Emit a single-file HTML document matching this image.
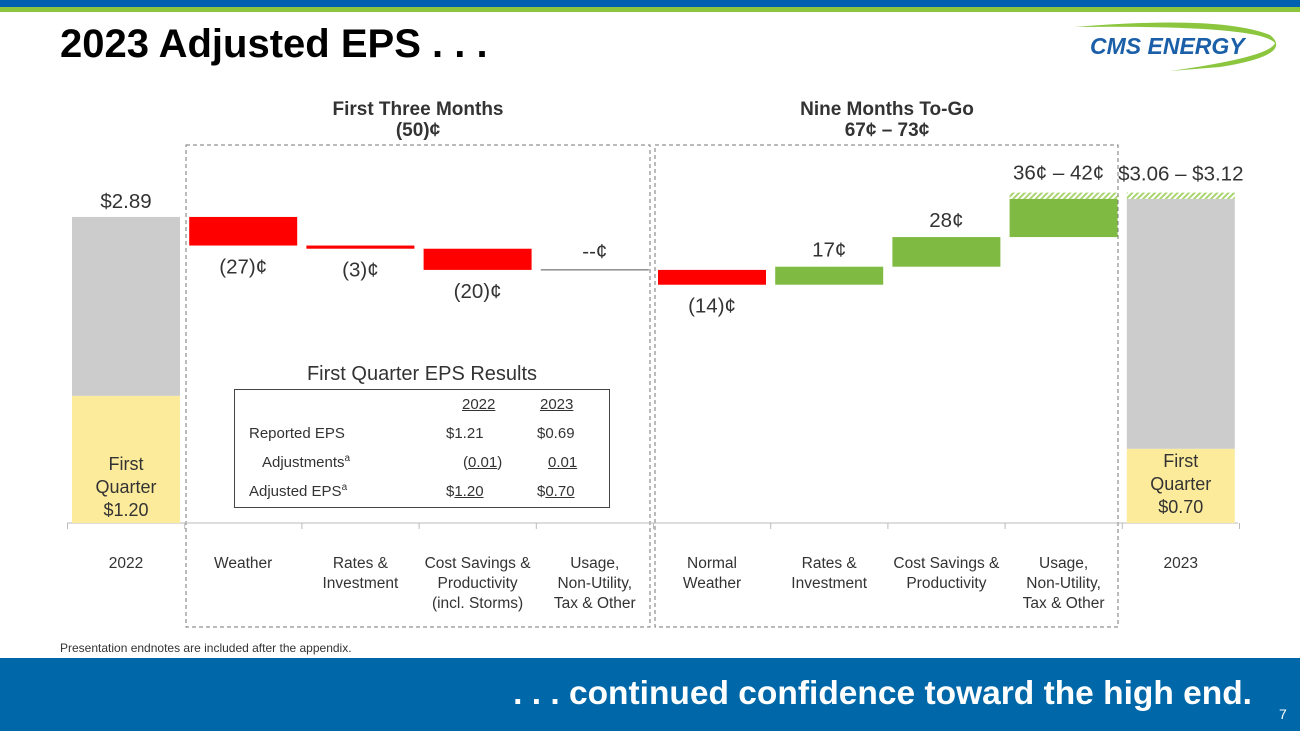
<!DOCTYPE html>
<html><head><meta charset="utf-8">
<style>
body{margin:0;width:1300px;height:731px;overflow:hidden;background:#fff;font-family:"Liberation Sans",sans-serif;position:relative}
.abs{position:absolute}
</style></head>
<body>
<div class="abs" style="left:0;top:0;width:1300px;height:7px;background:#0060b0"></div>
<div class="abs" style="left:0;top:7px;width:1300px;height:5px;background:#8cc63f"></div>
<div class="abs" style="left:60px;top:22px;font-size:40px;font-weight:bold;color:#000;letter-spacing:0px">2023 Adjusted EPS . . .</div>
<svg class="abs" style="left:1070px;top:15px" width="225" height="60">
<path d="M5,12 Q150,0 200,20 Q225,40 150,52 L100,56 Q200,42 205,28 Q190,10 5,12Z" fill="#8cc63f"/>
<text x="20" y="39" font-size="23" font-weight="bold" font-style="italic" fill="#1a5fa8" font-family="Liberation Sans">CMS ENERGY</text>
</svg>
<svg class="abs" style="left:0;top:0" width="1300" height="658" id="chart">
</svg>
<div class="abs" style="left:60px;top:641px;font-size:12px;color:#333">Presentation endnotes are included after the appendix.</div>
<div class="abs" style="left:0;top:658px;width:1300px;height:73px;background:#0068a8"></div>
<div class="abs" style="left:0;width:1252px;text-align:right;top:675px;font-size:33.5px;font-weight:bold;color:#fff">. . . continued confidence toward the high end.</div>
<div class="abs" style="left:1279px;top:706px;font-size:14px;color:#fff">7</div>
<script>
const categories=["2022","Weather","Rates &|Investment","Cost Savings &|Productivity|(incl. Storms)","Usage,|Non-Utility,|Tax & Other","Normal|Weather","Rates &|Investment","Cost Savings &|Productivity","Usage,|Non-Utility,|Tax & Other","2023"];
const deltas=[2.89,-0.27,-0.03,-0.20,0,-0.14,0.17,0.28,0.36,3.06];
const rangeExtra=[0,0,0,0,0,0,0,0,0.06,0.06];
const firstQuarter=[1.20,0,0,0,0,0,0,0,0,0.70];
const valueLabels=["$2.89","(27)¢","(3)¢","(20)¢","--¢","(14)¢","17¢","28¢","36¢ – 42¢","$3.06 – $3.12"];
const fqLabels=["$1.20","","","","","","","","","$0.70"];
const NS="http://www.w3.org/2000/svg";
const svg=document.getElementById('chart');
const base=523,ppd=105.9,x0=72,step=117.2,bw=108;
const y=v=>base-v*ppd;
const xc=i=>x0+i*step+bw/2;
function mk(t,a){const e=document.createElementNS(NS,t);for(const k in a)e.setAttribute(k,a[k]);svg.appendChild(e);return e;}
const defs=mk('defs',{});
defs.innerHTML='<pattern id="hatch" width="4" height="4" patternUnits="userSpaceOnUse" patternTransform="rotate(45)"><rect width="2" height="4" fill="#a9d46f"/></pattern>';
let b1=mk('rect',{x:186,y:145,width:464,height:482,fill:'none',stroke:'#777','stroke-dasharray':'4,3'});


let b2=mk('rect',{x:655,y:145,width:463,height:482,fill:'none',stroke:'#777','stroke-dasharray':'4,3'});


function txt(s,x,yy,sz,opts){const t=mk('text',Object.assign({x:x,y:yy,'font-size':sz,'text-anchor':'middle',fill:'#333','font-family':'Liberation Sans'},opts||{}));t.textContent=s;return t;}
let h=txt('First Three Months',418,115,19,{'font-weight':'bold',fill:'#333'});


h=txt('(50)¢',418,136,19,{'font-weight':'bold'});


h=txt('Nine Months To-Go',887,115,19,{'font-weight':'bold'});


h=txt('67¢ – 73¢',887,136,19,{'font-weight':'bold'});


let ax=mk('line',{x1:67,x2:1238,y1:base,y2:base,stroke:'#bbb'});


for(let i=0;i<=categories.length;i++){const tx=x0-4.5+i*step;mk('line',{x1:tx,x2:tx,y1:base,y2:base+6,stroke:'#bbb'});}
let run=0;
categories.forEach((c,i)=>{
  const xl=x0+i*step;let top,bot,lbY;
  if(i==0||i==categories.length-1){
    run=deltas[i];top=y(deltas[i]);bot=y(firstQuarter[i]);
    let r=mk('rect',{x:xl,y:top,width:bw,height:bot-top,fill:'#cccccc'});
    
    
    let f=mk('rect',{x:xl,y:bot,width:bw,height:base-bot,fill:'#fdeb9c'});
    
    
    ['First','Quarter',fqLabels[i]].forEach((s,k)=>txt(s,xc(i),bot+(i==0?74:18)+k*23,18));
    lbY=top-9;
  }else{
    const a=run,b=run+deltas[i];run=b;
    top=y(Math.max(a,b));bot=y(Math.min(a,b));
    if(deltas[i]==0){let l=mk('line',{x1:xl,x2:xl+bw,y1:top,y2:top,stroke:'#555'});lbY=top-12;}
    else{let r=mk('rect',{x:xl,y:top,width:bw,height:Math.max(bot-top,3),fill:deltas[i]<0?'#ff0000':'#7fba42'});
    
    
    lbY=deltas[i]<0?bot+28:top-10;}
  }
  if(rangeExtra[i]>0){let hr=mk('rect',{x:xl,y:y(run+rangeExtra[i]),width:bw,height:rangeExtra[i]*ppd,fill:'url(#hatch)'});}
  let vl=txt(valueLabels[i],xc(i)+(i==8?-5:0),rangeExtra[i]>0?lbY-rangeExtra[i]*ppd-3:lbY,20.5,{fill:'#333'});
  
  
  c.split('|').forEach((s,k)=>{let t=txt(s,xc(i),568+k*20,15.5,{fill:'#333'});});
});
</script>
<div class="abs" style="left:234px;width:376px;text-align:center;top:363px;font-size:20px;color:#333">First Quarter EPS Results</div>
<div class="abs" style="left:234px;top:389px;width:374px;height:117px;border:1px solid #444;font-size:15px;color:#333">
<div class="abs" style="left:227px;top:6px;text-decoration:underline">2022</div>
<div class="abs" style="left:305px;top:6px;text-decoration:underline">2023</div>
<div class="abs" style="left:14px;top:35px">Reported EPS</div>
<div class="abs" style="left:211px;top:35px">$1.21</div>
<div class="abs" style="left:302px;top:35px">$0.69</div>
<div class="abs" style="left:27px;top:63px">Adjustments<sup style="font-size:10px">a</sup></div>
<div class="abs" style="left:228px;top:64px">(<u>0.01</u>)</div>
<div class="abs" style="left:313px;top:64px"><u>0.01</u></div>
<div class="abs" style="left:14px;top:92px">Adjusted EPS<sup style="font-size:10px">a</sup></div>
<div class="abs" style="left:211px;top:93px">$<u>1.20</u></div>
<div class="abs" style="left:302px;top:93px">$<u>0.70</u></div>
</div>
</body></html>
